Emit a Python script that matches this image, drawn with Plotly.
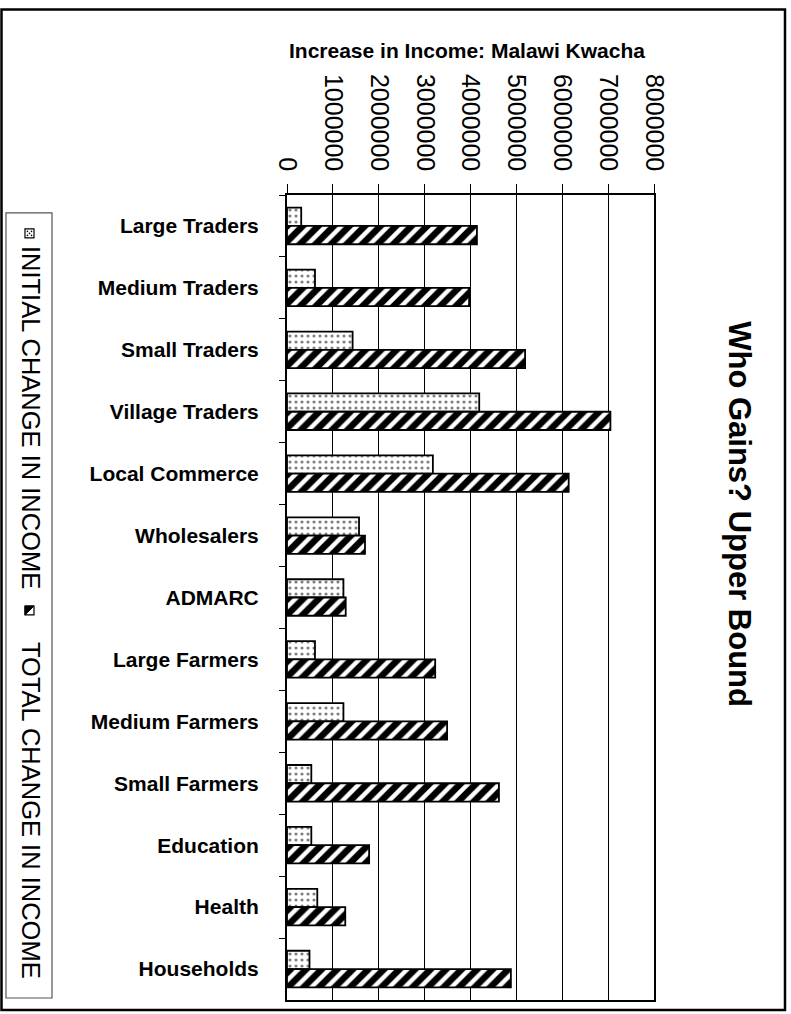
import plotly.graph_objects as go

categories = ["Large Traders", "Medium Traders", "Small Traders", "Village Traders",
              "Local Commerce", "Wholesalers", "ADMARC", "Large Farmers",
              "Medium Farmers", "Small Farmers", "Education", "Health", "Households"]
initial_change = [310000, 610000, 1430000, 4190000, 3180000, 1570000, 1230000,
                  610000, 1230000, 530000, 530000, 660000, 490000]
total_change = [4140000, 3970000, 5190000, 7050000, 6140000, 1700000, 1280000,
                3230000, 3490000, 4620000, 1790000, 1270000, 4880000]
tick_values = [0, 1000000, 2000000, 3000000, 4000000, 5000000, 6000000, 7000000, 8000000]
tick_labels = ["0", "1000000", "2000000", "3000000", "4000000", "5000000",
               "6000000", "7000000", "8000000"]

W, H = 791, 1014
PL, PR, PT, PB = 287, 654, 195, 1002
FONT = "Liberation Sans, Arial, sans-serif"


def fx(px):
    return (px - PL) / (PR - PL)


def fy(py):
    return (PB - py) / (PB - PT)


fig = go.Figure()
fig.add_trace(go.Bar(
    y=categories, x=initial_change, orientation="h", name="INITIAL CHANGE IN INCOME",
    marker=dict(color="white", line=dict(color="black", width=1.8),
                pattern=dict(shape=".", fgcolor="black", bgcolor="white",
                             size=6, solidity=0.22)),
))
fig.add_trace(go.Bar(
    y=categories, x=total_change, orientation="h", name="TOTAL CHANGE IN INCOME",
    marker=dict(color="white", line=dict(color="black", width=1.8),
                pattern=dict(shape="/", fgcolor="black", bgcolor="white",
                             size=11, solidity=0.6, fgopacity=1)),
))

fig.update_layout(
    width=W, height=H, autosize=False,
    margin=dict(l=PL, r=W - PR, t=PT, b=H - PB, pad=0),
    paper_bgcolor="white", plot_bgcolor="white",
    barmode="group", bargap=0.41, bargroupgap=0.0,
    showlegend=False,
    font=dict(family=FONT, color="black"),
    xaxis=dict(side="top", range=[0, 8000000], tickvals=tick_values, ticktext=tick_labels,
               tickangle=90, tickfont=dict(size=25, family=FONT, color="black"),
               ticks="outside", ticklen=9, tickwidth=1, tickcolor="black",
               ticklabelstandoff=4,
               showgrid=True, gridcolor="black", gridwidth=1,
               showline=True, linecolor="black", linewidth=2, mirror=True,
               zeroline=False, fixedrange=True),
    yaxis=dict(autorange="reversed", type="category",
               tickfont=dict(size=21, family=FONT, color="black", weight="bold"),
               ticks="outside", ticklen=6, tickwidth=1, tickcolor="black",
               tickson="boundaries", ticklabelstandoff=22,
               showgrid=False, showline=True, linecolor="black", linewidth=2,
               mirror=True, zeroline=False, fixedrange=True),
)

annotations = [
    dict(text="<b>Increase in Income: Malawi Kwacha</b>", x=fx(467), y=fy(50),
         xref="paper", yref="paper", showarrow=False, xanchor="center", yanchor="middle",
         font=dict(size=21, family=FONT, color="black")),
    dict(text="<b>Who Gains? Upper Bound</b>", x=fx(740), y=fy(515),
         xref="paper", yref="paper", showarrow=False, xanchor="center", yanchor="middle",
         textangle=90, font=dict(size=31, family=FONT, color="black")),
    dict(text="INITIAL CHANGE IN INCOME", x=fx(30.5), y=fy(418),
         xref="paper", yref="paper", showarrow=False, xanchor="center", yanchor="middle",
         textangle=90, font=dict(size=25.5, family=FONT, color="black")),
    dict(text="TOTAL CHANGE IN INCOME", x=fx(30.5), y=fy(812),
         xref="paper", yref="paper", showarrow=False, xanchor="center", yanchor="middle",
         textangle=90, font=dict(size=25.5, family=FONT, color="black")),
]

shapes = [
    # outer frame
    dict(type="rect", xref="paper", yref="paper", x0=fx(1.5), x1=fx(785), y0=fy(9),
         y1=fy(1012), line=dict(color="black", width=2.5), fillcolor="rgba(0,0,0,0)",
         layer="below"),
    # legend box
    dict(type="rect", xref="paper", yref="paper", x0=fx(6), x1=fx(52), y0=fy(213),
         y1=fy(1000), line=dict(color="#555", width=1.2), fillcolor="rgba(0,0,0,0)"),
    # swatch 1 (dots)
    dict(type="rect", xref="paper", yref="paper", x0=fx(25), x1=fx(34), y0=fy(229),
         y1=fy(238), line=dict(color="black", width=1.2), fillcolor="white"),
    # swatch 2 (hatch)
    dict(type="rect", xref="paper", yref="paper", x0=fx(25), x1=fx(34), y0=fy(607),
         y1=fy(616), line=dict(color="black", width=1.2), fillcolor="white"),
    dict(type="path", xref="paper", yref="paper",
         path=f"M {fx(25)},{fy(616)} L {fx(34)},{fy(607)} L {fx(25)},{fy(607)} Z",
         line=dict(color="black", width=1), fillcolor="black"),
]
for (dx, dy) in [(27.5, 231.5), (31.5, 231.5), (29.5, 233.5), (27.5, 235.5), (31.5, 235.5)]:
    shapes.append(dict(type="circle", xref="paper", yref="paper",
                       x0=fx(dx - 0.8), x1=fx(dx + 0.8), y0=fy(dy - 0.8), y1=fy(dy + 0.8),
                       line=dict(width=0), fillcolor="black"))

fig.update_layout(annotations=annotations, shapes=shapes)

fig.write_html("out.html", config={"displayModeBar": False},
               post_script="document.body.style.margin='0';")
